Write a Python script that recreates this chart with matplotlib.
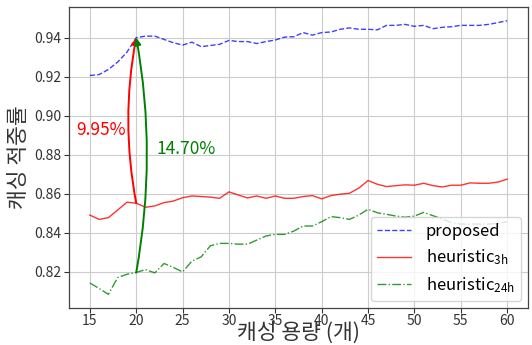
import numpy as np
import matplotlib
matplotlib.use("Agg")
import matplotlib.pyplot as plt

plt.rcParams['font.family'] = ['Noto Sans CJK KR', 'DejaVu Sans']
plt.rcParams['mathtext.default'] = 'regular'
plt.rcParams['axes.unicode_minus'] = False

# cache capacity (number of items)
capacity = np.arange(15, 61)

proposed = [
    0.9206, 0.9211, 0.9237, 0.9275, 0.9326, 0.9400, 0.9408, 0.9408, 0.9391, 0.9374,
    0.9362, 0.9377, 0.9354, 0.9360, 0.9366, 0.9386, 0.9380, 0.9380, 0.9370, 0.9380,
    0.9388, 0.9403, 0.9405, 0.9426, 0.9413, 0.9426, 0.9429, 0.9443, 0.9450, 0.9443,
    0.9443, 0.9440, 0.9463, 0.9463, 0.9468, 0.9458, 0.9463, 0.9446, 0.9453, 0.9456,
    0.9463, 0.9463, 0.9463, 0.9468, 0.9477, 0.9487,
]
heuristic_3h = [
    0.8491, 0.8469, 0.8478, 0.8517, 0.8557, 0.8552, 0.8531, 0.8538, 0.8555, 0.8563,
    0.8580, 0.8589, 0.8586, 0.8583, 0.8577, 0.8610, 0.8594, 0.8579, 0.8589, 0.8577,
    0.8589, 0.8577, 0.8577, 0.8586, 0.8591, 0.8574, 0.8591, 0.8598, 0.8603, 0.8629,
    0.8668, 0.8649, 0.8637, 0.8642, 0.8646, 0.8644, 0.8654, 0.8642, 0.8635, 0.8644,
    0.8644, 0.8656, 0.8654, 0.8654, 0.8660, 0.8675,
]
heuristic_24h = [
    0.8143, 0.8115, 0.8085, 0.8171, 0.8188, 0.8197, 0.8212, 0.8195, 0.8243, 0.8223,
    0.8200, 0.8255, 0.8277, 0.8334, 0.8346, 0.8346, 0.8342, 0.8342, 0.8363, 0.8384,
    0.8392, 0.8392, 0.8409, 0.8435, 0.8435, 0.8457, 0.8483, 0.8478, 0.8469, 0.8491,
    0.8521, 0.8503, 0.8495, 0.8486, 0.8480, 0.8486, 0.8505, 0.8488, 0.8471, 0.8452,
    0.8445, 0.8445, 0.8445, 0.8445, 0.8449, 0.8457,
]

# improvement at capacity 20
ref_cap = 20
gain_3h = "9.95%"
gain_24h = "14.70%"

fig = plt.figure(figsize=(5.32, 3.45), dpi=100)
ax = fig.add_axes([0.1297, 0.1072, 0.8628, 0.8725])

ax.plot(capacity, proposed, color='blue', linestyle='--', linewidth=1.0, alpha=0.75, label='proposed')
ax.plot(capacity, heuristic_3h, color='red', linestyle='-', linewidth=1.0, alpha=0.8, label='heuristic$_{3h}$')
ax.plot(capacity, heuristic_24h, color='green', linestyle='-.', linewidth=1.0, alpha=0.8, label='heuristic$_{24h}$')

i = list(capacity).index(ref_cap)
ax.annotate('', xy=(ref_cap, proposed[i]), xytext=(ref_cap, heuristic_3h[i]),
            arrowprops=dict(arrowstyle='-|>', color='red', lw=1.4, mutation_scale=10,
                            shrinkA=0, shrinkB=0, connectionstyle='arc3,rad=-0.095'))
ax.annotate('', xy=(ref_cap, proposed[i]), xytext=(ref_cap, heuristic_24h[i]),
            arrowprops=dict(arrowstyle='-|>', color='green', lw=1.4, mutation_scale=10,
                            shrinkA=0, shrinkB=0, connectionstyle='arc3,rad=0.09'))
ax.text(13.5, 0.8929, gain_3h, color='red', fontsize=12.5, va='center', ha='left')
ax.text(22.2, 0.8829, gain_24h, color='green', fontsize=12.5, va='center', ha='left')

ax.set_xticks(np.arange(15, 61, 5))
ax.set_yticks([0.82, 0.84, 0.86, 0.88, 0.90, 0.92, 0.94])
ax.tick_params(labelsize=10, colors='#333333', length=3.5)
ax.tick_params(axis='x', pad=0.5)
ax.tick_params(axis='y', pad=2)
ax.grid(True, color='#cccccc', linewidth=0.8)
for s in ax.spines.values():
    s.set_color('#444444')
    s.set_linewidth(0.9)

ax.set_xlabel('캐싱 용량 (개)', fontsize=15.5, color='#333333', va='baseline')
ax.xaxis.set_label_coords(0.5, -0.103)
ax.set_ylabel('캐싱 적중률', fontsize=15.5, color='#333333', va='center')
ax.yaxis.set_label_coords(-0.108, 0.5)

ax.legend(loc='lower right', fontsize=12, framealpha=0.8, handlelength=2.0,
          handletextpad=0.9, labelspacing=0.45, borderaxespad=0.4)

fig.savefig('out.png', dpi=100)
